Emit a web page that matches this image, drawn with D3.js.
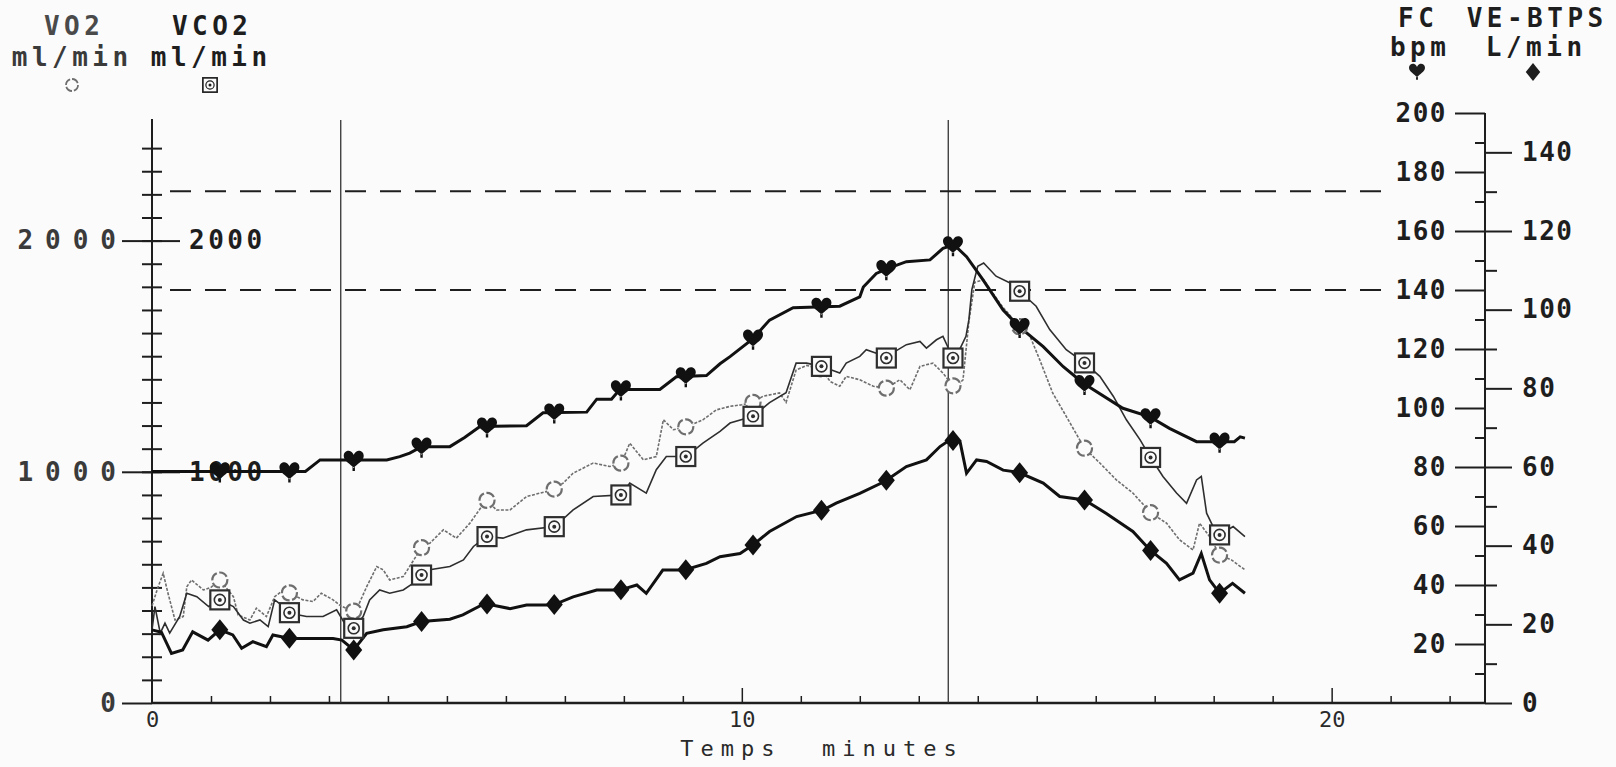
<!DOCTYPE html>
<html>
<head>
<meta charset="utf-8">
<script src="https://cdn.jsdelivr.net/npm/d3@7"></script>
<style>
  body { margin: 0; background: #fbfbfb; }
  svg { display: block; }
  .mono { font-family: "DejaVu Sans Mono", monospace; font-weight: bold; fill: #1e1e1e; }
  .thin { font-family: "DejaVu Sans Mono", monospace; fill: #2a2a2a; }
</style>
</head>
<body>
<div id="chart"></div>
<script>
// phase boundaries (minutes) and heart-rate limits (bpm)
const phaseTimes = [3.2, 13.5];
const fcLimits = [173.5, 140];

// times where the plotter printed a symbol on each curve
const markerTimes = [1.15, 2.33, 3.42, 4.57, 5.68, 6.82, 7.95, 9.05, 10.19, 11.35, 12.45, 13.58, 14.71, 15.81, 16.93, 18.1];

// FC, bpm  [minutes, value]
const fcData = [[0,78.5],[2.6,78.5],[2.85,82.4],[3.98,82.4],[4.2,83.5],[4.37,84.7],[4.57,86.9],[5.05,86.9],[5.3,90],[5.56,93.7],
  [6.35,94],[6.63,98.4],[7.37,98.6],[7.54,103],[7.79,103],[7.93,106.3],[8.61,106.3],[8.89,110.6],[9.4,111],[9.63,115],
  [9.8,117.4],[10.19,123.5],[10.47,129.8],[10.87,134],[11.66,134.5],[12.0,137.7],[12.06,141],[12.28,145.6],[12.5,147.5],
  [12.79,149.6],[13.19,150.2],[13.41,154.1],[13.6,155.3],[13.81,151.3],[14.09,143.4],[14.43,133.2],[14.7,127.6],[15.11,120.8],
  [15.45,114],[15.79,108.4],[16.46,99.9],[16.92,97],[17.25,93.1],[17.71,88.6],[18.35,88.6],[18.45,90.2],[18.53,89.8]];

// VE-BTPS, L/min
const veData = [[0,18.6],[0.16,18],[0.33,12.6],[0.52,13.5],[0.69,18.1],[0.95,16],[1.15,18.6],[1.37,17.3],[1.52,13.9],[1.71,15.6],
  [1.94,14.3],[2.05,17.3],[2.34,16.4],[3.07,16.4],[3.22,16],[3.42,13.5],[3.64,17.7],[3.92,18.6],[4.32,19.4],[4.57,20.7],
  [5.05,21.3],[5.27,22.4],[5.64,25.3],[6.07,24],[6.35,24.9],[6.8,24.9],[7.14,27],[7.54,28.7],[7.93,28.7],[8.22,30],
  [8.38,27.9],[8.66,33.8],[9.03,33.8],[9.4,35.5],[9.63,37.2],[9.97,38],[10.19,40.2],[10.47,43.6],[10.93,47.4],[11.38,49.1],
  [11.6,50.8],[12.0,53.3],[12.42,56.3],[12.79,60.1],[13.13,61.8],[13.36,65.2],[13.53,66.9],[13.7,66.4],[13.81,58.4],
  [13.98,61.8],[14.15,61.4],[14.43,59.2],[14.7,58.6],[15.11,55.9],[15.39,52.5],[15.81,51.6],[16.18,48.2],[16.63,43.6],
  [16.92,38.9],[17.2,35.5],[17.42,31.3],[17.65,33],[17.79,38],[17.93,31.3],[18.1,27.9],[18.32,30.4],[18.53,27.9]];

// VO2, ml/min
const vo2Data = [[0,420],[0.1,500],[0.19,561],[0.27,476],[0.39,359],[0.53,374],[0.59,503],[0.67,532],[0.87,489],[1.0,500],
  [1.15,532],[1.38,460],[1.46,381],[1.66,359],[1.77,410],[1.94,374],[2.08,460],[2.23,489],[2.34,475],[2.56,446],[2.73,439],
  [2.87,475],[3.07,446],[3.2,420],[3.35,403],[3.45,395],[3.64,503],[3.81,590],[3.92,576],[4.03,532],[4.26,547],[4.6,684],
  [4.71,691],[4.94,749],[5.16,713],[5.39,778],[5.67,879],[5.84,835],[6.07,835],[6.35,893],[6.8,922],[6.97,951],[7.14,994],
  [7.48,1038],[7.76,1023],[7.96,1038],[8.1,1124],[8.33,1052],[8.55,1066],[8.67,1225],[8.84,1182],[9.09,1197],[9.34,1225],
  [9.57,1268],[9.8,1283],[10.0,1290],[10.19,1300],[10.36,1327],[10.64,1341],[10.75,1300],[10.92,1440],[11.1,1460],
  [11.35,1445],[11.5,1390],[11.66,1370],[11.77,1413],[12.0,1398],[12.23,1370],[12.45,1362],[12.68,1398],[12.85,1355],
  [13.02,1456],[13.24,1470],[13.41,1427],[13.61,1362],[13.75,1398],[13.85,1650],[13.95,1820],[14.1,1830],[14.4,1720],
  [14.7,1630],[14.88,1590],[15.05,1485],[15.27,1341],[15.5,1240],[15.81,1102],[16.07,1038],[16.35,965],[16.63,908],
  [16.94,821],[17.2,778],[17.42,706],[17.65,662],[17.76,778],[17.93,720],[18.1,640],[18.3,619],[18.53,576]];

// VCO2, ml/min
const vco2Data = [[0,316],[0.05,417],[0.14,302],[0.22,345],[0.3,302],[0.47,374],[0.59,475],[0.76,460],[0.96,417],[1.15,446],
  [1.38,417],[1.55,359],[1.66,345],[1.83,359],[1.97,330],[2.08,446],[2.23,417],[2.34,388],[2.62,374],[2.9,374],[3.13,403],
  [3.3,330],[3.42,323],[3.58,374],[3.69,446],[3.86,489],[4.03,475],[4.26,489],[4.43,518],[4.6,561],[4.71,576],[5.05,590],
  [5.28,619],[5.45,677],[5.67,720],[5.95,713],[6.35,749],[6.83,763],[7.14,835],[7.48,893],[7.96,900],[8.1,951],[8.38,908],
  [8.55,1009],[8.72,1066],[9.06,1066],[9.34,1124],[9.63,1175],[9.8,1211],[10.19,1240],[10.47,1299],[10.75,1342],[10.92,1470],
  [11.1,1470],[11.35,1456],[11.66,1427],[11.77,1470],[12.0,1499],[12.11,1528],[12.28,1513],[12.45,1492],[12.6,1521],
  [12.79,1550],[13.02,1564],[13.13,1535],[13.3,1571],[13.41,1586],[13.58,1492],[13.69,1528],[13.8,1586],[13.85,1658],
  [13.9,1788],[14.0,1889],[14.1,1903],[14.31,1846],[14.6,1810],[14.71,1781],[14.99,1716],[15.22,1615],[15.5,1528],
  [15.81,1471],[16.07,1413],[16.3,1326],[16.52,1225],[16.75,1139],[16.92,1066],[17.14,980],[17.37,908],[17.54,864],
  [17.71,965],[17.79,980],[17.88,821],[17.99,763],[18.1,727],[18.33,763],[18.53,720]];

const width = 1616, height = 767;
const ink = "#1e1e1e";

const svg = d3.select("#chart").append("svg")
  .attr("width", width).attr("height", height);

svg.append("rect").attr("width", width).attr("height", height).attr("fill", "#fbfbfb");

// scales
const x = d3.scaleLinear().domain([0, 22.6]).range([152, 1485]);
const yGas = d3.scaleLinear().domain([0, 2500]).range([703, 125]);
const yFC = d3.scaleLinear().domain([0, 200]).range([703, 113]);
const yVE = d3.scaleLinear().domain([0, 150]).range([703, 113]);
const plain = d3.format("d");

const xLeft = x(0), xRight = x.range()[1], yBase = yGas(0);

// value of a series at time t (for placing the symbols on the curve)
const bis = d3.bisector((d) => d[0]).left;
function valueAt(data, t) {
  const i = Math.max(1, Math.min(data.length - 1, bis(data, t)));
  const a = data[i - 1], b = data[i];
  const k = (t - a[0]) / (b[0] - a[0]);
  return a[1] + k * (b[1] - a[1]);
}

function tidy(g, cls) {
  g.select(".domain").remove();
  g.selectAll("line").attr("stroke", ink).attr("stroke-width", 2);
  g.selectAll("text").attr("class", cls);
  return g;
}

// ---- left axis (VO2 / VCO2)
svg.append("line")
  .attr("x1", xLeft).attr("x2", xLeft)
  .attr("y1", yBase).attr("y2", 119)
  .attr("stroke", ink).attr("stroke-width", 2);

const gasMinor = d3.range(100, 2500, 100);
svg.append("g").attr("transform", `translate(${xLeft},0)`)
  .call(d3.axisLeft(yGas).tickValues(gasMinor).tickSize(10).tickFormat(""))
  .call((g) => tidy(g, "mono"));
svg.append("g").attr("transform", `translate(${xLeft},0)`)
  .call(d3.axisRight(yGas).tickValues(gasMinor).tickSize(10).tickFormat(""))
  .call((g) => tidy(g, "mono"));

const gasOuter = svg.append("g").attr("transform", `translate(${xLeft},0)`)
  .call(d3.axisLeft(yGas).tickValues([0, 1000, 2000]).tickSize(30).tickPadding(6).tickFormat(plain))
  .call((g) => tidy(g, "mono"));
gasOuter.selectAll("text")
  .style("font-size", "26px").style("letter-spacing", "12px")
  .style("fill", "#3a3a3a").attr("dx", 12);

const gasInner = svg.append("g").attr("transform", `translate(${xLeft},0)`)
  .call(d3.axisRight(yGas).tickValues([1000, 2000]).tickSize(28).tickPadding(9).tickFormat(plain))
  .call((g) => tidy(g, "mono"));
gasInner.selectAll("text").style("font-size", "26px").style("letter-spacing", "3.5px");

// ---- right axes (FC on the left side, VE on the right side)
svg.append("line")
  .attr("x1", xRight).attr("x2", xRight)
  .attr("y1", yBase).attr("y2", yFC(200))
  .attr("stroke", ink).attr("stroke-width", 2);

svg.append("g").attr("transform", `translate(${xRight},0)`)
  .call(d3.axisLeft(yFC).tickValues(d3.range(10, 200, 20)).tickSize(10).tickFormat(""))
  .call((g) => tidy(g, "mono"));
const fcAxis = svg.append("g").attr("transform", `translate(${xRight},0)`)
  .call(d3.axisLeft(yFC).tickValues(d3.range(20, 201, 20)).tickSize(30).tickPadding(8).tickFormat(plain))
  .call((g) => tidy(g, "mono"));
fcAxis.selectAll("text").style("font-size", "26px").style("letter-spacing", "1.5px");

svg.append("g").attr("transform", `translate(${xRight},0)`)
  .call(d3.axisRight(yVE).tickValues(d3.range(10, 150, 20)).tickSize(12).tickFormat(""))
  .call((g) => tidy(g, "mono"));
const veAxis = svg.append("g").attr("transform", `translate(${xRight},0)`)
  .call(d3.axisRight(yVE).tickValues(d3.range(0, 141, 20)).tickSize(27).tickPadding(10).tickFormat(plain))
  .call((g) => tidy(g, "mono"));
veAxis.selectAll("text").style("font-size", "26px").style("letter-spacing", "1.5px");

// ---- time axis
svg.append("line")
  .attr("x1", xLeft).attr("x2", xRight)
  .attr("y1", yBase).attr("y2", yBase)
  .attr("stroke", ink).attr("stroke-width", 2.5);

svg.append("g").attr("transform", `translate(0,${yBase})`)
  .call(d3.axisTop(x).tickValues(d3.range(1, 23).filter((d) => d % 10)).tickSize(7).tickFormat(""))
  .call((g) => tidy(g, "thin"))
  .selectAll("line").attr("stroke-width", 1.5);
svg.append("g").attr("transform", `translate(0,${yBase})`)
  .call(d3.axisTop(x).tickValues([10, 20]).tickSize(15).tickFormat(""))
  .call((g) => tidy(g, "thin"))
  .selectAll("line").attr("stroke-width", 1.5);
const xLabels = svg.append("g").attr("transform", `translate(0,${yBase})`)
  .call(d3.axisBottom(x).tickValues([0, 10, 20]).tickSize(0).tickPadding(8))
  .call((g) => tidy(g, "thin"));
xLabels.selectAll("text").style("font-size", "22px");

svg.append("text").attr("class", "thin")
  .attr("x", 822).attr("y", 756)
  .attr("text-anchor", "middle")
  .style("font-size", "22px").style("letter-spacing", "7px")
  .style("white-space", "pre")
  .text("Temps  minutes");

// ---- reference lines
svg.selectAll(".phase").data(phaseTimes).join("line")
  .attr("class", "phase")
  .attr("x1", (d) => x(d)).attr("x2", (d) => x(d))
  .attr("y1", 120).attr("y2", yBase)
  .attr("stroke", "#333").attr("stroke-width", 1.3);

svg.selectAll(".limit").data(fcLimits).join("line")
  .attr("class", "limit")
  .attr("x1", 170).attr("x2", 1392)
  .attr("y1", (d) => yFC(d)).attr("y2", (d) => yFC(d))
  .attr("stroke", ink).attr("stroke-width", 2)
  .attr("stroke-dasharray", "21,14");

// ---- curves
const series = [
  { data: vo2Data, y: yGas, color: "#6e6e6e", width: 1.6, dash: "3,1.5", mark: "circle" },
  { data: vco2Data, y: yGas, color: "#2e2e2e", width: 1.6, dash: null, mark: "square" },
  { data: veData, y: yVE, color: "#111", width: 3, dash: null, mark: "diamond" },
  { data: fcData, y: yFC, color: "#111", width: 3, dash: null, mark: "heart" },
];

const heartPath = "M0,8 C-3,4 -10,1 -10,-4 C-10,-8.5 -5.5,-10 -2.8,-8.5 C-1.3,-7.6 -0.4,-6.2 0,-5 C0.4,-6.2 1.3,-7.6 2.8,-8.5 C5.5,-10 10,-8.5 10,-4 C10,1 3,4 0,8 Z M-1.2,7 L-1.2,11 L1.2,11 L1.2,7 Z";
const diamondPath = "M0,-10.5 L8.5,0 L0,10.5 L-8.5,0 Z";

function drawMark(g, kind, color) {
  if (kind === "heart") {
    g.append("path").attr("d", heartPath).attr("fill", color);
  } else if (kind === "diamond") {
    g.append("path").attr("d", diamondPath).attr("fill", color);
  } else if (kind === "circle") {
    g.append("circle").attr("r", 7.5).attr("fill", "#fbfbfb")
      .attr("stroke", color).attr("stroke-width", 2.2).attr("stroke-dasharray", "9,2.5");
  } else {
    g.append("rect").attr("x", -9.5).attr("y", -9.5).attr("width", 19).attr("height", 19)
      .attr("fill", "#fbfbfb").attr("stroke", color).attr("stroke-width", 2.2);
    g.append("circle").attr("r", 5.5).attr("fill", "none").attr("stroke", color).attr("stroke-width", 1.6);
    g.append("circle").attr("r", 2).attr("fill", color);
  }
}

series.forEach((s) => {
  const line = d3.line().x((d) => x(d[0])).y((d) => s.y(d[1]));
  svg.append("path")
    .datum(s.data)
    .attr("d", line)
    .attr("fill", "none")
    .attr("stroke", s.color)
    .attr("stroke-width", s.width)
    .attr("stroke-linejoin", "miter")
    .attr("stroke-dasharray", s.dash);
});

series.forEach((s) => {
  svg.selectAll(null).data(markerTimes).join("g")
    .attr("transform", (t) => `translate(${x(t)},${s.y(valueAt(s.data, t))})`)
    .each(function () { drawMark(d3.select(this), s.mark, s.color); });
});

// ---- headers
const head = [
  { t: "VO2", x: 72, y: 35, c: "#4a4a4a" },
  { t: "ml/min", x: 70, y: 66, c: "#3a3a3a" },
  { t: "VCO2", x: 210, y: 35, c: ink },
  { t: "ml/min", x: 209, y: 66, c: ink },
  { t: "FC", x: 1416, y: 27, c: ink },
  { t: "VE-BTPS", x: 1535, y: 27, c: ink },
  { t: "bpm", x: 1418, y: 56, c: ink },
  { t: "L/min", x: 1534, y: 56, c: ink },
];
svg.selectAll(".head").data(head).join("text")
  .attr("class", "mono")
  .attr("x", (d) => d.x + 2.2).attr("y", (d) => d.y)
  .attr("text-anchor", "middle")
  .style("font-size", "26px").style("letter-spacing", "4.5px")
  .style("fill", (d) => d.c)
  .text((d) => d.t);

const legendMarks = [
  { kind: "circle", x: 72, y: 85, c: "#6e6e6e", s: 0.8 },
  { kind: "square", x: 210, y: 85, c: ink, s: 0.75 },
  { kind: "heart", x: 1417, y: 71, c: ink, s: 0.8 },
  { kind: "diamond", x: 1533, y: 72, c: ink, s: 0.85 },
];
legendMarks.forEach((m) => {
  const g = svg.append("g").attr("transform", `translate(${m.x},${m.y}) scale(${m.s})`);
  drawMark(g, m.kind, m.c);
});
</script>
</body>
</html>
